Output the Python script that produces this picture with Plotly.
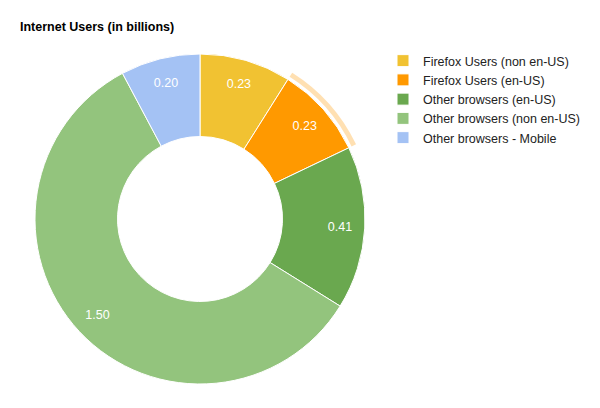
import plotly.graph_objects as go

# data
labels = ['Firefox Users (non en-US)',
          'Firefox Users (en-US)',
          'Other browsers (en-US)',
          'Other browsers (non en-US)',
          'Other browsers - Mobile']
users = [0.23, 0.23, 0.41, 1.50, 0.20]
colors = ['#f1c232', '#ff9900', '#6aa84f', '#93c47d', '#a4c2f4']

# highlight ring only shown around the selected slice
selected = 'Firefox Users (en-US)'
ring_colors = ['rgba(255,153,0,0.3)' if l == selected else 'rgba(0,0,0,0)' for l in labels]
clear = ['rgba(0,0,0,0)'] * len(labels)

W, H = 600, 408
# page body adds 8px, so positions are given 8px up/left
cx, cy, r = 192, 211, 165
ring_r = 173

pie_domain = dict(x=[(cx - r) / W, (cx + r) / W],
                  y=[1 - (cy + r) / H, 1 - (cy - r) / H])

fig = go.Figure()

# faint ring behind the highlighted slice
fig.add_trace(go.Pie(labels=labels, values=users,
                     sort=False, direction='clockwise', rotation=0,
                     hole=168 / ring_r,
                     marker=dict(colors=ring_colors, line=dict(width=0)),
                     textinfo='none', hoverinfo='skip', showlegend=False,
                     domain=dict(x=[(cx - ring_r) / W, (cx + ring_r) / W],
                                 y=[1 - (cy + ring_r) / H, 1 - (cy - ring_r) / H])))

fig.add_trace(go.Pie(labels=labels, values=users,
                     sort=False, direction='clockwise', rotation=0,
                     hole=0.5,
                     marker=dict(colors=colors, line=dict(color='white', width=1)),
                     textinfo='none',
                     domain=pie_domain))

# transparent thin donut on top, only to put the value labels further out
fig.add_trace(go.Pie(labels=labels, values=users,
                     sort=False, direction='clockwise', rotation=0,
                     hole=0.7,
                     marker=dict(colors=clear, line=dict(width=0)),
                     texttemplate='%{value:.2f}', textposition='inside',
                     insidetextorientation='horizontal',
                     textfont=dict(color='white', size=12.5, family='Liberation Sans, Arial'),
                     hoverinfo='skip', showlegend=False,
                     domain=pie_domain))

fig.update_layout(width=W, height=H,
                  margin=dict(l=0, r=0, t=0, b=0),
                  paper_bgcolor='white', plot_bgcolor='white',
                  font=dict(family='Liberation Sans, Arial', size=12.5, color='#222222'),
                  title=dict(text='<b>Internet Users (in billions)</b>',
                             x=12 / W, xanchor='left', y=1 - 19 / H, yanchor='middle',
                             font=dict(size=12.5, color='#000000')),
                  legend=dict(x=375 / W, xanchor='left', y=1 - 38 / H, yanchor='top',
                              font=dict(size=12.5, color='#222222'),
                              itemwidth=30, tracegroupgap=0,
                              bgcolor='rgba(0,0,0,0)'))

fig.write_html("out.html")
